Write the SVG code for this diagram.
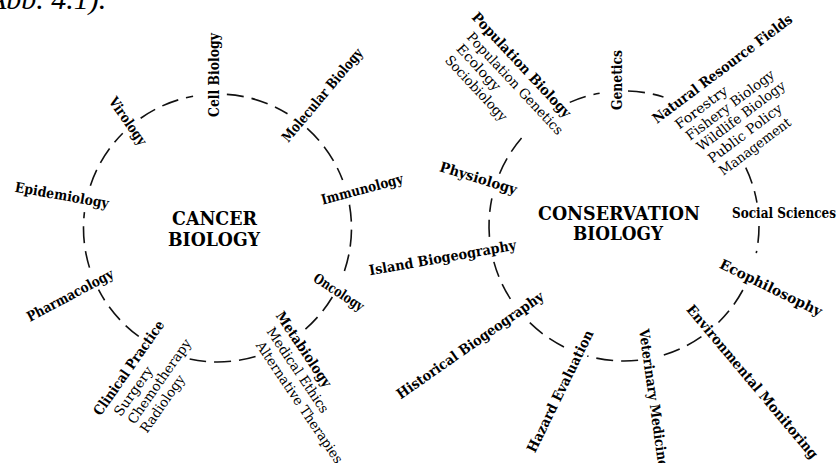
<svg xmlns="http://www.w3.org/2000/svg" width="837" height="463" viewBox="0 0 837 463">
<style>
text{font-family:"DejaVu Serif","Liberation Serif",serif;fill:#000;}
.b{font-weight:bold;font-size:14px;}
.r{font-weight:normal;font-size:13.5px;}
.c{text-anchor:middle;}
.t{font-weight:bold;font-size:19px;text-anchor:middle;}
.arc{fill:none;stroke:#111;stroke-width:1.6;stroke-dasharray:17 8;}
.cap{font-family:"Liberation Serif",serif;font-style:italic;font-size:30px;}
</style>
<rect width="837" height="463" fill="#fff"/>
<text class="cap" x="-12" y="9">Abb. 4.1).</text>
<g id="connectors">
<g id="cancer-circle">
<path class="arc" d="M226.85,94.33 A134,134 0 0 1 287.5,113.75"/>
<path class="arc" d="M307.16,128.42 A134,134 0 0 1 342.6,179.98"/>
<path class="arc" d="M349.46,204.74 A134,134 0 0 1 342.6,276.02"/>
<path class="arc" d="M332.36,297.01 A134,134 0 0 1 303.63,330.65"/>
<path class="arc" d="M255.56,356.48 A134,134 0 0 1 189.64,359.07"/>
<path class="arc" d="M138.74,336.41 A134,134 0 0 1 98.53,289.67"/>
<path class="arc" d="M89.49,267.62 A134,134 0 0 1 84.44,212.13"/>
<path class="arc" d="M90.35,185.70 A134,134 0 0 1 122.75,133.25"/>
<path class="arc" d="M140.64,118.23 A134,134 0 0 1 193.08,96.24"/>
</g>
<g id="conservation-circle">
<path class="arc" d="M628.0,91.05 A135,135 0 0 1 663.47,96.90"/>
<path class="arc" d="M745.74,167.67 A135,135 0 0 1 756.95,202.56"/>
<path class="arc" d="M759,226 A135,135 0 0 1 756.25,253.15"/>
<path class="arc" d="M742.87,290.0 A135,135 0 0 1 718.46,322.46"/>
<path class="arc" d="M701.43,336.59 A135,135 0 0 1 662.11,355.51"/>
<path class="arc" d="M638.11,360.26 A135,135 0 0 1 587.24,355.90"/>
<path class="arc" d="M563.98,346.92 A135,135 0 0 1 526.07,318.93"/>
<path class="arc" d="M510.40,298.93 A135,135 0 0 1 493.85,261.86"/>
<path class="arc" d="M489.43,236.83 A135,135 0 0 1 491.85,198.39"/>
<path class="arc" d="M499.54,173.69 A135,135 0 0 1 526.56,132.57"/>
<path class="arc" d="M569.74,102.38 A135,135 0 0 1 599.63,93.21"/>
</g>
</g>
<g id="cancer-biology">
<text class="t" x="214.5" y="225" textLength="85" lengthAdjust="spacingAndGlyphs">CANCER</text>
<text class="t" x="214" y="246" textLength="92" lengthAdjust="spacingAndGlyphs">BIOLOGY</text>
</g>
<g id="cell-biology"><text class="b c" transform="translate(214,75) rotate(-90)" y="5" textLength="84" lengthAdjust="spacingAndGlyphs">Cell Biology</text></g>
<g id="virology"><text class="b c" transform="translate(128,121) rotate(55)" y="5" textLength="55" lengthAdjust="spacingAndGlyphs">Virology</text></g>
<g id="molecular-biology"><text class="b c" transform="translate(322,95) rotate(-50)" y="5" textLength="117" lengthAdjust="spacingAndGlyphs">Molecular Biology</text></g>
<g id="epidemiology"><text class="b c" transform="translate(62,195) rotate(10)" y="5" textLength="95" lengthAdjust="spacingAndGlyphs">Epidemiology</text></g>
<g id="immunology"><text class="b c" transform="translate(362,189) rotate(-15)" y="5" textLength="84" lengthAdjust="spacingAndGlyphs">Immunology</text></g>
<g id="pharmacology"><text class="b c" transform="translate(70,295) rotate(-28)" y="5" textLength="96" lengthAdjust="spacingAndGlyphs">Pharmacology</text></g>
<g id="oncology"><text class="b c" transform="translate(339,292) rotate(33)" y="5" textLength="57" lengthAdjust="spacingAndGlyphs">Oncology</text></g>
<g id="clinical-practice" transform="translate(100.6,416.5) rotate(-55)">
<text class="b" x="0" y="0" textLength="112" lengthAdjust="spacingAndGlyphs">Clinical Practice</text>
<text class="r" x="11" y="17" textLength="57" lengthAdjust="spacingAndGlyphs">Surgery</text>
<text class="r" x="12.5" y="32.5" textLength="100" lengthAdjust="spacingAndGlyphs">Chemotherapy</text>
<text class="r" x="12.5" y="48" textLength="67" lengthAdjust="spacingAndGlyphs">Radiology</text>
</g>
<g id="metabiology" transform="translate(275.2,315.5) rotate(56)">
<text class="b" x="0" y="0" textLength="88" lengthAdjust="spacingAndGlyphs">Metabiology</text>
<text class="r" x="8" y="16.5" textLength="100" lengthAdjust="spacingAndGlyphs">Medical Ethics</text>
<text class="r" x="13.5" y="33" textLength="144" lengthAdjust="spacingAndGlyphs">Alternative Therapies</text>
</g>
<g id="conservation-biology">
<text class="t" x="619" y="220" textLength="162" lengthAdjust="spacingAndGlyphs">CONSERVATION</text>
<text class="t" x="618" y="240" textLength="90" lengthAdjust="spacingAndGlyphs">BIOLOGY</text>
</g>
<g id="population-biology" transform="translate(471.1,17.7) rotate(47)">
<text class="b" x="0" y="0" textLength="138" lengthAdjust="spacingAndGlyphs">Population Biology</text>
<text class="r" x="11" y="17.4" textLength="134" lengthAdjust="spacingAndGlyphs">Population Genetics</text>
<text class="r" x="12.5" y="33" textLength="58" lengthAdjust="spacingAndGlyphs">Ecology</text>
<text class="r" x="13" y="49" textLength="84" lengthAdjust="spacingAndGlyphs">Sociobiology</text>
</g>
<g id="genetics"><text class="b c" transform="translate(617,80) rotate(-90)" y="5" textLength="60" lengthAdjust="spacingAndGlyphs">Genetics</text></g>
<g id="natural-resource-fields" transform="translate(656.9,124.1) rotate(-37)">
<text class="b" x="0" y="0" textLength="171" lengthAdjust="spacingAndGlyphs">Natural Resource Fields</text>
<text class="r" x="14.5" y="18" textLength="62" lengthAdjust="spacingAndGlyphs">Forestry</text>
<text class="r" x="16.3" y="33.3" textLength="107" lengthAdjust="spacingAndGlyphs">Fishery Biology</text>
<text class="r" x="18.5" y="48.7" textLength="107" lengthAdjust="spacingAndGlyphs">Wildlife Biology</text>
<text class="r" x="20.2" y="65" textLength="89" lengthAdjust="spacingAndGlyphs">Public Policy</text>
<text class="r" x="21.8" y="81.5" textLength="86" lengthAdjust="spacingAndGlyphs">Management</text>
</g>
<g id="physiology"><text class="b c" transform="translate(478.5,178) rotate(17)" y="5" textLength="80" lengthAdjust="spacingAndGlyphs">Physiology</text></g>
<g id="social-sciences"><text class="b" x="732" y="218" textLength="104" lengthAdjust="spacingAndGlyphs">Social Sciences</text></g>
<g id="island-biogeography"><text class="b c" transform="translate(442.5,257.5) rotate(-10)" y="5" textLength="149" lengthAdjust="spacingAndGlyphs">Island Biogeography</text></g>
<g id="ecophilosophy"><text class="b c" transform="translate(771,287.5) rotate(26)" y="5" textLength="112" lengthAdjust="spacingAndGlyphs">Ecophilosophy</text></g>
<g id="historical-biogeography"><text class="b c" transform="translate(470,345) rotate(-35)" y="5" textLength="176" lengthAdjust="spacingAndGlyphs">Historical Biogeography</text></g>
<g id="hazard-evaluation"><text class="b c" transform="translate(560,391) rotate(-64)" y="5" textLength="134" lengthAdjust="spacingAndGlyphs">Hazard Evaluation</text></g>
<g id="veterinary-medicine"><text class="b" transform="translate(644,329) rotate(82)" x="0" y="5" textLength="140" lengthAdjust="spacingAndGlyphs">Veterinary Medicine</text></g>
<g id="environmental-monitoring"><text class="b c" transform="translate(752.5,381.5) rotate(50)" y="5" textLength="196" lengthAdjust="spacingAndGlyphs">Environmental Monitoring</text></g>
</svg>
